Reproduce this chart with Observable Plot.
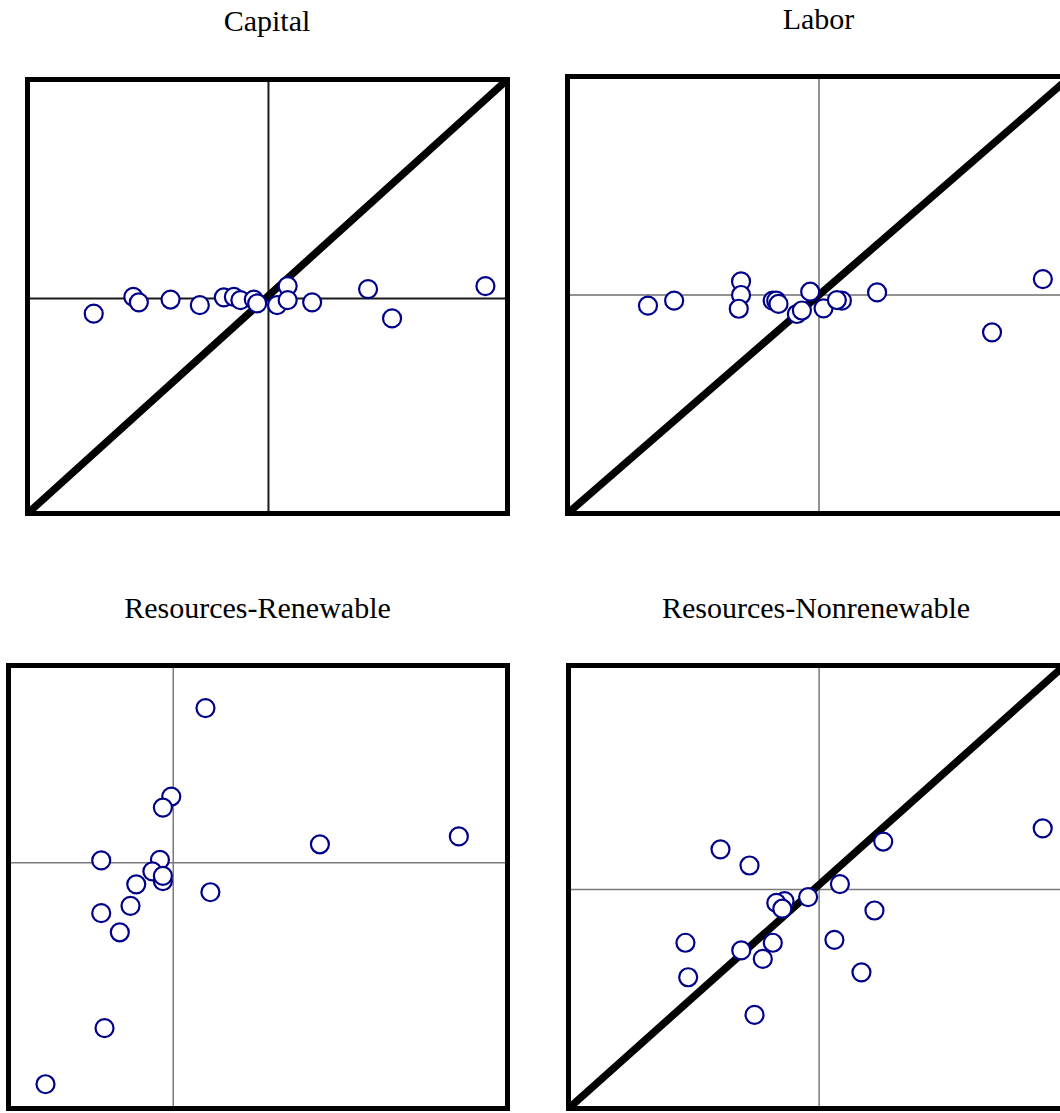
<!DOCTYPE html>
<html>
<head>
<meta charset="utf-8">
<script src="https://cdn.jsdelivr.net/npm/d3@7"></script>
<script src="https://cdn.jsdelivr.net/npm/@observablehq/plot@0.6"></script>
<style>
  html, body { margin: 0; padding: 0; background: #fff; overflow: hidden; width: 1060px; height: 1113px; }
  #chart { position: relative; width: 1060px; height: 1113px; overflow: hidden; }
  .title { position: absolute; width: 400px; text-align: center; font-family: "Liberation Serif", "Times New Roman", serif; font-size: 30px; line-height: 30px; color: #000; white-space: nowrap; }
  .panel { position: absolute; }
</style>
</head>
<body>
<div id="chart"></div>
<script>
// ---- Data ----
const panelTitles = ["Capital", "Labor", "Resources-Renewable", "Resources-Nonrenewable"];

const capitalX = [-0.728, -0.563, -0.540, -0.408, -0.286, -0.186, -0.144, -0.117, -0.061, -0.047, 0.036, 0.080, 0.080, 0.182, 0.415, 0.515, 0.904];
const capitalY = [-0.070, 0.007, -0.018, -0.005, -0.031, 0.005, 0.007, -0.008, -0.005, -0.023, -0.031, 0.057, -0.008, -0.018, 0.043, -0.092, 0.057];
const capitalXDomain = [-1.004, 0.996];
const capitalYDomain = [-0.991, 1.009];

const laborX = [-0.680, -0.576, -0.310, -0.310, -0.319, -0.184, -0.170, -0.161, -0.088, -0.068, -0.035, 0.018, 0.091, 0.071, 0.231, 0.688, 0.890];
const laborY = [-0.049, -0.026, 0.062, 0.000, -0.063, -0.026, -0.026, -0.041, -0.087, -0.071, 0.015, -0.061, -0.026, -0.023, 0.012, -0.171, 0.073];
const laborXDomain = [-1.0, 1.0];
const laborYDomain = [-1.0, 1.0];

const renewableX = [0.196, -0.012, -0.063, 0.892, 1.737, -0.438, -0.081, -0.127, -0.063, -0.063, -0.225, 0.226, -0.260, -0.438, -0.325, -0.418, -0.777];
const renewableY = [0.784, 0.336, 0.280, 0.094, 0.134, 0.012, 0.015, -0.043, -0.093, -0.066, -0.109, -0.149, -0.218, -0.255, -0.352, -0.838, -1.122];
const renewableXDomain = [-1.002, 2.033];
const renewableYDomain = [-1.245, 1.0];

const nonrenewableX = [-0.394, -0.278, 0.256, 0.893, 0.083, -0.044, -0.138, -0.171, -0.147, 0.221, -0.534, -0.311, -0.185, -0.225, 0.061, -0.523, 0.169, -0.258];
const nonrenewableY = [0.179, 0.107, 0.214, 0.273, 0.024, -0.034, -0.052, -0.060, -0.086, -0.094, -0.238, -0.272, -0.238, -0.310, -0.225, -0.392, -0.370, -0.560];
const nonrenewableXDomain = [-1.001, 0.980];
const nonrenewableYDomain = [-0.978, 1.0];

// ---- Layout / styles ----
const panels = [
  { title: panelTitles[0], xs: capitalX, ys: capitalY, xDomain: capitalXDomain, yDomain: capitalYDomain, diagonal: true,
    box: [27, 79, 507, 513], titleTop: 6, zeroColor: "#1a1a1a", zeroWidth: 2 },
  { title: panelTitles[1], xs: laborX, ys: laborY, xDomain: laborXDomain, yDomain: laborYDomain, diagonal: true,
    box: [567, 76, 1070, 513], titleTop: 4, zeroColor: "#6e6e6e", zeroWidth: 1.5 },
  { title: panelTitles[2], xs: renewableX, ys: renewableY, xDomain: renewableXDomain, yDomain: renewableYDomain, diagonal: false,
    box: [8, 665, 507, 1108], titleTop: 593, zeroColor: "#7a7a7a", zeroWidth: 1.5 },
  { title: panelTitles[3], xs: nonrenewableX, ys: nonrenewableY, xDomain: nonrenewableXDomain, yDomain: nonrenewableYDomain, diagonal: true,
    box: [568, 665, 1064, 1108], titleTop: 593, zeroColor: "#7a7a7a", zeroWidth: 1.5 }
];

const chart = document.getElementById("chart");
const m = 8;

for (const p of panels) {
  const [l, t, r, b] = p.box;
  const W = (r - l) + 2 * m;
  const H = (b - t) + 2 * m;
  const data = p.xs.map((x, i) => ({ x, y: p.ys[i] }));

  const marks = [
    Plot.ruleX([0], { stroke: p.zeroColor, strokeWidth: p.zeroWidth }),
    Plot.ruleY([0], { stroke: p.zeroColor, strokeWidth: p.zeroWidth })
  ];
  if (p.diagonal) {
    const diag = [
      { x: p.xDomain[0], y: p.yDomain[0] },
      { x: p.xDomain[1], y: p.yDomain[1] }
    ];
    marks.push(Plot.line(diag, { x: "x", y: "y", stroke: "#000", strokeWidth: 7.5, strokeLinecap: "butt", clip: "frame" }));
  }
  marks.push(Plot.frame({ stroke: "#000", strokeWidth: 5 }));
  marks.push(Plot.dot(data, { x: "x", y: "y", r: 9, stroke: "#000088", strokeWidth: 2.2, fill: "#fff" }));

  const svg = Plot.plot({
    width: W,
    height: H,
    marginLeft: m, marginRight: m, marginTop: m, marginBottom: m,
    x: { domain: p.xDomain, axis: null },
    y: { domain: p.yDomain, axis: null },
    style: { maxWidth: "none", overflow: "visible", background: "transparent" },
    marks
  });
  const wrap = document.createElement("div");
  wrap.className = "panel";
  wrap.style.left = (l - m) + "px";
  wrap.style.top = (t - m) + "px";
  wrap.appendChild(svg);
  chart.appendChild(wrap);

  const title = document.createElement("div");
  title.className = "title";
  title.textContent = p.title;
  title.style.left = ((l + r) / 2 - 200) + "px";
  title.style.top = p.titleTop + "px";
  chart.appendChild(title);
}
</script>
</body>
</html>
